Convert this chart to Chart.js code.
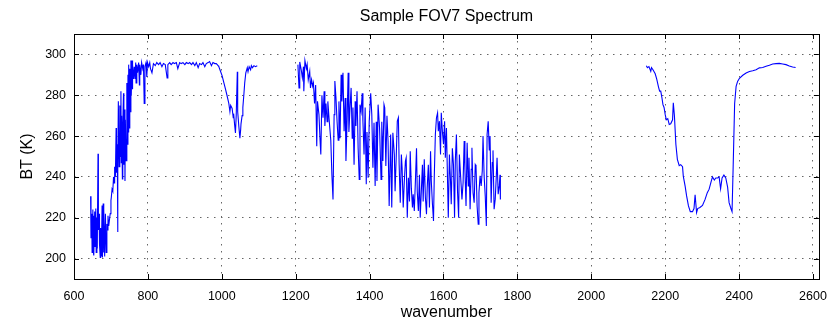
<!DOCTYPE html>
<html>
<head>
<meta charset="utf-8">
<script src="https://cdn.jsdelivr.net/npm/chart.js@4.4.1/dist/chart.umd.min.js"></script>
<style>
  html, body { margin: 0; padding: 0; background: #fff; }
  #grafico { display: block; }
</style>
</head>
<body>
<canvas id="grafico" width="837" height="324"></canvas>
<script>
// Banda LW (650-1095)
const lwWavenumber = [
  645, 646, 648, 649, 651, 652, 653, 654, 656, 657, 659, 660, 662, 663, 665, 666, 668, 669, 671, 672,
  674, 676, 677, 679, 680, 681, 683, 685, 687, 689, 690, 692, 694, 696, 698, 700, 701, 703, 705, 707,
  709, 710, 712, 714, 715, 717, 718, 719, 720, 722, 724, 725, 727, 728, 729, 731, 732, 734, 735, 737,
  738, 739, 741, 743, 744, 746, 747, 748, 749, 751, 752, 754, 755, 757, 758, 759, 761, 763, 765, 767,
  768, 770, 772, 775, 777, 778, 781, 783, 786, 788, 790, 792, 795, 797, 799, 802, 805, 807, 811, 815,
  820, 824, 829, 833, 838, 842, 847, 852, 854, 859, 863, 868, 872, 877, 881, 886, 890, 895, 900, 904,
  909, 913, 918, 922, 927, 931, 936, 940, 945, 949, 954, 958, 963, 967, 972, 976, 981, 985, 990, 992,
  996, 1001, 1005, 1010, 1014, 1019, 1022, 1024, 1028, 1031, 1032, 1035, 1037, 1039, 1042, 1043, 1046, 1049, 1051, 1052,
  1055, 1057, 1060, 1062, 1065, 1069, 1071, 1074, 1078, 1080, 1083, 1087, 1091, 1096
];
const lwBT = [
  230.5, 210, 222, 203, 224, 204, 221, 201.5, 223, 206, 224.5, 203, 220, 205, 251.3, 214, 222, 207, 200.5, 215,
  201, 226, 200.5, 227, 203, 224, 201, 222, 203, 217, 214, 221, 216, 219, 222, 228.5, 230, 234, 233, 240,
  237, 245, 240, 264, 242, 256, 213, 244, 277, 245, 275, 250, 282, 247, 270, 239, 265, 281, 246, 273,
  238, 268, 248, 286, 256, 290, 262, 295, 264, 293, 272, 297, 280, 297, 283, 295, 288, 294, 288, 296,
  286, 295, 291, 296, 285, 295, 290, 296, 293, 295, 276, 294, 296, 289, 296, 294, 296, 293, 291, 295.5,
  294.5, 296, 295, 296, 294, 295.5, 295, 288.5, 295, 296, 295, 296, 295.5, 296, 293, 296, 295.5, 296, 295, 296,
  295.5, 296, 295, 296, 294.5, 296, 293.5, 295.5, 295, 296, 294, 295.5, 296, 296.5, 294.5, 296, 295.5, 295.5, 294.5, 294,
  292, 289.5, 286.5, 283, 280, 276, 272, 275, 273.5, 269, 271, 265, 261.5, 270, 291.5, 272, 265, 259, 263, 266,
  270, 274, 281, 286, 291, 293.5, 291.5, 294, 292.5, 294.5, 293.5, 294.5, 294, 294.5
];

// Banda MW (1210-1750)
const mwWavenumber = [
  1206, 1209, 1211, 1215, 1218, 1221, 1222, 1225, 1229, 1231, 1234, 1238, 1240, 1243, 1246, 1248, 1251, 1254, 1257, 1259,
  1263, 1266, 1268, 1271, 1274, 1277, 1279, 1282, 1285, 1287, 1291, 1295, 1298, 1301, 1304, 1306, 1309, 1312, 1315, 1317,
  1320, 1323, 1325, 1328, 1331, 1334, 1336, 1339, 1342, 1344, 1347, 1350, 1353, 1355, 1358, 1361, 1363, 1366, 1369, 1372,
  1374, 1377, 1380, 1382, 1385, 1388, 1391, 1393, 1396, 1399, 1403, 1406, 1409, 1412, 1415, 1418, 1420, 1423, 1427, 1431,
  1433, 1436, 1439, 1441, 1444, 1447, 1450, 1453, 1457, 1460, 1463, 1467, 1469, 1472, 1475, 1478, 1480, 1483, 1486, 1488,
  1491, 1494, 1497, 1499, 1502, 1505, 1508, 1510, 1513, 1516, 1518, 1521, 1524, 1527, 1529, 1532, 1535, 1537, 1540, 1543,
  1545, 1548, 1551, 1554, 1556, 1559, 1562, 1565, 1567, 1570, 1573, 1575, 1578, 1581, 1584, 1586, 1589, 1592, 1594, 1597,
  1600, 1603, 1605, 1608, 1611, 1613, 1616, 1619, 1621, 1624, 1627, 1630, 1632, 1635, 1638, 1641, 1643, 1650, 1653, 1656,
  1658, 1661, 1664, 1667, 1669, 1672, 1675, 1677, 1680, 1683, 1686, 1688, 1691, 1694, 1696, 1699, 1702, 1705, 1707, 1710,
  1713, 1716, 1718, 1721, 1724, 1726, 1729, 1732, 1734, 1737, 1740, 1743, 1745, 1748, 1751, 1753, 1754
];
const mwBT = [
  295, 283.6, 296.3, 292.5, 288.5, 294, 282, 297, 293, 295, 287.6, 291.7, 283.6, 287.6, 284.4, 286, 276, 285, 255, 277,
  270.5, 258, 251, 280, 269, 282, 265, 276, 267, 277, 267, 258, 241, 229, 270.5, 287, 278.7, 267, 258, 277,
  259, 290, 277, 291, 262.4, 278.7, 247.8, 267, 291, 262, 273.8, 283.6, 259, 274, 246, 277, 265, 282, 254, 238.8,
  275.4, 272, 281, 267, 251, 274, 236.4, 262, 239.6, 267, 281, 270.5, 244.5, 266.5, 235.5, 267, 238, 275.4, 264, 238.8,
  267, 247.8, 275.4, 273.8, 245.3, 270, 257.5, 225.8, 260.8, 225, 261.6, 251, 233, 249.4, 267.3, 269, 246, 227.4, 251, 244.5,
  225, 238, 247.8, 249.4, 220, 239.6, 228, 252.6, 234.5, 225, 231.5, 223.3, 238, 254, 233, 223.3, 241, 220, 233, 246,
  228, 248.6, 230, 221.7, 235, 246, 225, 252.6, 238, 227, 218.4, 239.6, 260.8, 269, 271.4, 262.4, 267.3, 251, 271.4, 262.4,
  256, 267.3, 249.4, 264, 238, 220, 251, 238, 226.6, 254, 246, 220, 247.8, 260.8, 233, 220, 251, 229, 237, 257.6,
  243.7, 225.8, 256.7, 235.6, 249.4, 224.2, 243.7, 254.3, 232.3, 227.4, 246, 245.3, 225.8, 216.8, 232.3, 240.5, 235.6, 243, 260, 240.5,
  230.7, 216, 260.8, 267.3, 253, 260, 227.4, 247, 253, 224.2, 229, 240.5, 249.4, 231.5, 235.6, 241, 229
];

// Banda SW (2155-2550)
const swWavenumber = [
  2149, 2152, 2156, 2161, 2163, 2167, 2173, 2177, 2182, 2185, 2188, 2191, 2194, 2197, 2200, 2203, 2207, 2211, 2215, 2220,
  2222, 2225, 2229, 2233, 2238, 2242, 2247, 2249, 2254, 2258, 2263, 2268, 2274, 2278, 2281, 2285, 2288, 2294, 2301, 2308,
  2314, 2319, 2324, 2328, 2333, 2337, 2342, 2346, 2350, 2354, 2359, 2364, 2369, 2373, 2378, 2381, 2384, 2388, 2392, 2396,
  2401, 2410, 2419, 2428, 2437, 2446, 2455, 2464, 2473, 2482, 2491, 2500, 2509, 2518, 2527, 2536, 2545, 2553
];
const swBT = [
  294.5, 293.5, 294, 291.7, 293.5, 292.5, 290.5, 288, 284, 282, 282, 279, 275.4, 274, 270.6, 268, 268.5, 265.7, 266, 268,
  276.3, 270, 255.9, 248.6, 245.5, 246, 245, 240.4, 235.5, 230.7, 225.8, 223, 223, 224.5, 231.3, 222.5, 224.5, 225, 226, 229,
  232.3, 234, 237.5, 240, 238.5, 239.5, 239.5, 240, 234.2, 239.5, 240.9, 239.5, 235, 227.4, 224.5, 223, 245, 276, 284.4, 286.8,
  288.3, 289.8, 290.9, 291.6, 292, 292.5, 293.4, 293.6, 294.2, 294.7, 295.3, 295.5, 295.6, 295.3, 295, 294.3, 293.8, 293.6
];

// Ticks de los ejes
const xTicks = [600, 800, 1000, 1200, 1400, 1600, 1800, 2000, 2200, 2400, 2600];
const yTicks = [200, 220, 240, 260, 280, 300];

const titulo = 'Sample FOV7 Spectrum';
const fuente = "'Liberation Sans', Arial, Helvetica, sans-serif";

// Juntar x e y en puntos
function puntos(xs, ys) {
    return xs.map((x, i) => ({ x: x, y: ys[i] }));
}

// Marco negro, ticks hacia adentro y titulo centrado sobre el area (estilo MATLAB)
const marcoEjes = {
    id: 'marcoEjes',
    afterDraw(chart) {
        const { ctx, chartArea: a, scales: { x, y } } = chart;
        const largo = 5;
        ctx.save();
        ctx.strokeStyle = '#000';
        ctx.lineWidth = 1;
        ctx.beginPath();
        x.ticks.forEach(t => {
            const px = Math.round(x.getPixelForValue(t.value)) + 0.5;
            ctx.moveTo(px, a.bottom);
            ctx.lineTo(px, a.bottom - largo);
            ctx.moveTo(px, a.top);
            ctx.lineTo(px, a.top + largo);
        });
        y.ticks.forEach(t => {
            const py = Math.round(y.getPixelForValue(t.value)) + 0.5;
            ctx.moveTo(a.left, py);
            ctx.lineTo(a.left + largo, py);
            ctx.moveTo(a.right, py);
            ctx.lineTo(a.right - largo, py);
        });
        ctx.stroke();
        ctx.strokeRect(Math.round(a.left) + 0.5, Math.round(a.top) + 0.5,
            Math.round(a.right - a.left), Math.round(a.bottom - a.top));

        ctx.fillStyle = '#000';
        ctx.font = '16px ' + fuente;
        ctx.textAlign = 'center';
        ctx.textBaseline = 'middle';
        ctx.fillText(titulo, (a.left + a.right) / 2, 17);
        ctx.restore();
    }
};

const serie = (datos) => ({
    data: datos,
    borderColor: '#0000FF',
    borderWidth: 1.1,
    pointRadius: 0,
    tension: 0,
    fill: false
});

const ctx = document.getElementById('grafico').getContext('2d');

new Chart(ctx, {
    type: 'line',
    data: {
        datasets: [
            serie(puntos(lwWavenumber, lwBT)),
            serie(puntos(mwWavenumber, mwBT)),
            serie(puntos(swWavenumber, swBT))
        ]
    },
    options: {
        responsive: false,
        animation: false,
        layout: { padding: { left: 0, right: 16, top: 34, bottom: 0 } },
        plugins: {
            legend: { display: false },
            tooltip: { enabled: false },
            title: { display: false }
        },
        scales: {
            x: {
                type: 'linear',
                min: 600,
                max: 2616,
                afterBuildTicks: s => { s.ticks = xTicks.map(v => ({ value: v })); },
                afterFit: s => { s.height = 45; },
                ticks: {
                    color: '#000',
                    padding: 10,
                    maxRotation: 0,
                    autoSkip: false,
                    font: { family: fuente, size: 12.5 },
                    callback: v => String(v)
                },
                grid: { color: '#666', drawTicks: false, lineWidth: 1 },
                border: { display: false, dash: [1.5, 5.5] },
                title: {
                    display: true,
                    text: 'wavenumber',
                    color: '#000',
                    font: { family: fuente, size: 16 },
                    padding: { top: 0, bottom: 1.5 }
                }
            },
            y: {
                type: 'linear',
                min: 190,
                max: 310,
                afterBuildTicks: s => { s.ticks = yTicks.map(v => ({ value: v })); },
                afterFit: s => { s.width = 74; },
                ticks: {
                    color: '#000',
                    padding: 8,
                    font: { family: fuente, size: 12.5 },
                    callback: v => String(v)
                },
                grid: { color: '#666', drawTicks: false, lineWidth: 1 },
                border: { display: false, dash: [1.5, 5.5] },
                title: {
                    display: true,
                    text: 'BT (K)',
                    color: '#000',
                    font: { family: fuente, size: 16 },
                    padding: { top: 17.5, bottom: 0 }
                }
            }
        }
    },
    plugins: [marcoEjes]
});
</script>
</body>
</html>
